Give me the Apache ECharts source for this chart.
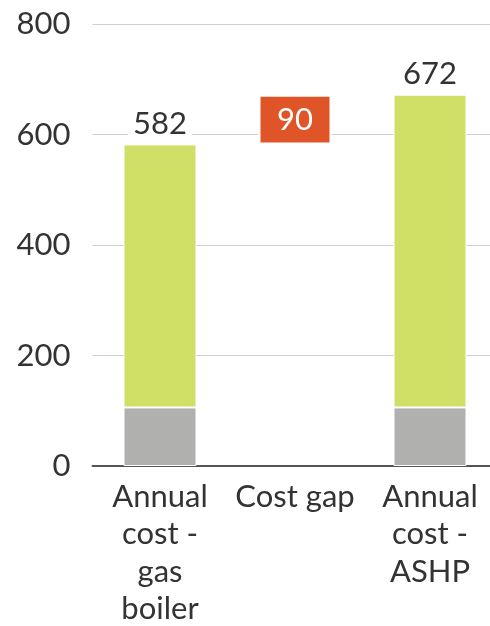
<!DOCTYPE html>
<html><head><meta charset="utf-8">
<script src="https://cdn.jsdelivr.net/npm/echarts@6/dist/echarts.min.js"></script>
<style>html,body{margin:0;padding:0;background:#fff}#c{width:490px;height:626px}</style>
</head><body><div id="c"></div>
<script>
var categories = ["Annual\ncost -\ngas\nboiler", "Cost gap", "Annual\ncost -\nASHP"];
var totals = [582, null, 672];
var fixedPart = [106, null, 106];
var gapBase = [null, 582, null];
var gapValue = [null, 90, null];
var yTicks = [0, 200, 400, 600, 800];

var greenPart = totals.map(function (t, i) { return t == null ? '-' : t - fixedPart[i]; });
var fnt = 'Lato, "Open Sans", sans-serif';
var chart = echarts.init(document.getElementById('c'), null, {renderer: 'canvas'});
chart.setOption({
  animation: false,
  grid: {left: 92.5, top: 24, width: 405, height: 442, containLabel: false, outerBoundsMode: 'none'},
  xAxis: {
    type: 'category', data: categories,
    axisLine: {lineStyle: {color: '#555', width: 2}},
    axisTick: {show: false},
    axisLabel: {fontSize: 31, color: '#333', fontFamily: fnt, lineHeight: 37.5, margin: 12, interval: 0}
  },
  yAxis: {
    type: 'value', min: yTicks[0], max: yTicks[yTicks.length - 1], interval: 200,
    axisLine: {show: false}, axisTick: {show: false},
    splitLine: {lineStyle: {color: '#d0d0d0', width: 1}},
    axisLabel: {fontSize: 31, color: '#333', fontFamily: fnt, margin: 22}
  },
  series: [
    {type: 'bar', stack: 'a', barWidth: 73, data: fixedPart.map(function(v){return v==null?'-':v;}),
     itemStyle: {color: '#b0b0af', borderColor: '#fff', borderWidth: 1}},
    {type: 'bar', stack: 'a', barWidth: 73, data: greenPart,
     itemStyle: {color: '#d0df66', borderColor: '#fff', borderWidth: 1},
     label: {show: true, position: 'top', distance: 3, fontSize: 31, color: '#333', fontFamily: fnt,
       backgroundColor: '#fff', padding: [0, 5, 2, 5],
       formatter: function (p) { return totals[p.dataIndex]; }}},
    {type: 'bar', stack: 'a', barWidth: 73, data: gapBase.map(function(v){return v==null?'-':v;}),
     itemStyle: {color: 'transparent'}},
    {type: 'bar', stack: 'a', barWidth: 73, data: gapValue.map(function(v){return v==null?'-':v;}),
     itemStyle: {color: '#e05527', borderColor: '#fff', borderWidth: 2},
     label: {show: true, position: 'inside', fontSize: 31, color: '#fff', fontFamily: fnt}}
  ]
});
</script></body></html>
